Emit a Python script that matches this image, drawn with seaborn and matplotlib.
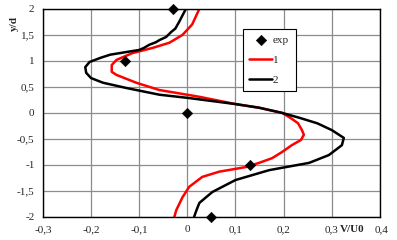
import seaborn as sns
import matplotlib.pyplot as plt
import matplotlib.transforms as mtransforms
import pandas as pd

# experimental points
exp_x = [-0.03, -0.13, 0.0, 0.13, 0.05]
exp_y = [2.0, 1.0, 0.0, -1.0, -2.0]

# curve 1 (red)
c1_y = [2.0, 1.7, 1.5, 1.35, 1.25, 1.15, 1.02, 0.92, 0.79, 0.73, 0.58, 0.44, 0.31,
        0.17, 0.1, 0.0, -0.1, -0.2, -0.33, -0.42, -0.52, -0.62, -0.75, -0.87, -0.96,
        -1.04, -1.13, -1.23, -1.42, -1.62, -1.87, -2.0]
c1_x = [0.025, 0.01, -0.01, -0.037, -0.072, -0.114, -0.147, -0.157, -0.157, -0.147, -0.106, -0.058, 0.025,
        0.1, 0.149, 0.197, 0.215, 0.23, 0.238, 0.242, 0.236, 0.217, 0.197, 0.176, 0.149,
        0.122, 0.066, 0.031, 0.004, -0.01, -0.023, -0.027]

# curve 2 (black)
c2_y = [2.0, 1.75, 1.62, 1.56, 1.46, 1.40, 1.36, 1.31, 1.25, 1.21, 1.17, 1.15, 1.12, 1.06, 0.98,
        0.88, 0.77, 0.67, 0.58, 0.48, 0.35, 0.29, 0.17, 0.1, 0.0, -0.1, -0.2, -0.33, -0.48,
        -0.62, -0.81, -0.96, -1.1, -1.29, -1.52, -1.73, -1.87, -2.0]
c2_x = [-0.003, -0.017, -0.025, -0.033, -0.044, -0.058, -0.065, -0.079, -0.09, -0.1, -0.127, -0.14, -0.16, -0.18, -0.203,
        -0.212, -0.21, -0.2, -0.175, -0.127, -0.058, 0.0, 0.1, 0.149, 0.197, 0.235, 0.27, 0.3, 0.325,
        0.321, 0.294, 0.253, 0.17, 0.1, 0.052, 0.025, 0.019, 0.014]

df_exp = pd.DataFrame({'x': exp_x, 'y': exp_y})
df1 = pd.DataFrame({'x': c1_x, 'y': c1_y})
df2 = pd.DataFrame({'x': c2_x, 'y': c2_y})

sns.set_style('white')
plt.rcParams['font.family'] = ['Liberation Serif', 'DejaVu Serif']
plt.rcParams['font.size'] = 8

fig = plt.figure(figsize=(3.97, 2.4), dpi=100)
ax = fig.add_axes([0.108, 0.096, 0.849, 0.867])

sns.scatterplot(x='x', y='y', data=df_exp, marker='D', color='black', s=28,
                edgecolor='black', zorder=5, clip_on=False, label='exp', ax=ax)
sns.lineplot(x='x', y='y', data=df1, sort=False, estimator=None, color='#ff0000',
             lw=1.8, label='1', ax=ax)
sns.lineplot(x='x', y='y', data=df2, sort=False, estimator=None, color='black',
             lw=1.8, label='2', ax=ax)

ax.set_xlim(-0.3, 0.4)
ax.set_ylim(-2, 2)
ax.set_xticks([-0.3, -0.2, -0.1, 0, 0.1, 0.2, 0.3, 0.4])
ax.set_xticklabels(['-0,3', '-0,2', '-0,1', '0', '0,1', '0,2', '0,3', '0,4'])
ax.set_yticks([-2, -1.5, -1, -0.5, 0, 0.5, 1, 1.5, 2])
ax.set_yticklabels(['-2', '-1,5', '-1', '-0,5', '0', '0,5', '1', '1,5', '2'])
ax.tick_params(length=0, labelsize=8, pad=6)
ax.grid(True, color='#8c8c8c', lw=0.9)
ax.set_axisbelow(True)
for s in ax.spines.values():
    s.set_color('black')
    s.set_linewidth(1.0)

# nudge the last x tick label a bit right to make room for V/U0
lbl = ax.get_xticklabels()[-1]
lbl.set_transform(lbl.get_transform() + mtransforms.ScaledTranslation(1.5 / 72, 0, fig.dpi_scale_trans))

ax.set_xlabel('')
ax.set_ylabel('')
ax.text(-0.085, 0.93, 'y/d', transform=ax.transAxes, rotation=90, fontweight='bold',
        fontsize=8, ha='center', va='center')
offset = mtransforms.ScaledTranslation(0, -6 / 72, fig.dpi_scale_trans)
ax.text(0.342, -2.0, 'V/U0', fontweight='bold', fontsize=8, ha='center', va='top',
        transform=ax.transData + offset)

leg = ax.legend(loc='upper left', bbox_to_anchor=(0.593, 0.905), frameon=True, fancybox=False,
                edgecolor='black', framealpha=1, fontsize=8, handlelength=2.0,
                handletextpad=0.1, borderpad=0.6, labelspacing=0.9, borderaxespad=0)
leg.get_frame().set_linewidth(0.8)

plt.savefig('out.png', dpi=100)
